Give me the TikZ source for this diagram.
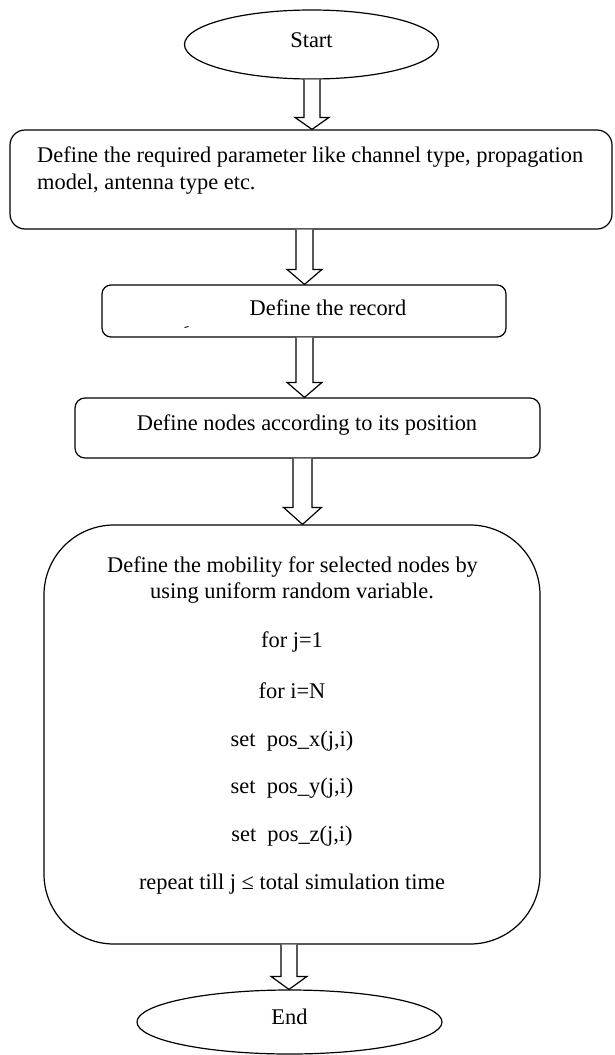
\documentclass[tikz,border=0pt]{standalone}
\usepackage{fontspec}
\setmainfont{Liberation Serif}
\usetikzlibrary{shapes.geometric,calc}
\newcommand\hollowarrow[6]{%
  \draw[arrowline] let \p1=(#2), \p2=(#3) in
    (#1-#4,\y1) -- (#1-#4,\y2+#6pt) -- (#1-#5,\y2+#6pt) -- (#1,\y2)
    -- (#1+#5,\y2+#6pt) -- (#1+#4,\y2+#6pt) -- (#1+#4,\y1);}
\begin{document}
\begin{tikzpicture}[x=1pt,y=1pt,
  every node/.style={font=\fontsize{22.4}{27}\selectfont},
  boxnode/.style={draw, line width=1.2pt, inner sep=0pt},
  ovalnode/.style={draw, ellipse, line width=1.2pt, inner sep=0pt},
  txt/.style={inner sep=0pt, anchor=base},
  txtl/.style={inner sep=0pt, anchor=base west},
  arrowline/.style={draw, line width=1.2pt, fill=white, line join=miter}]
\useasboundingbox (0,0) rectangle (614,-1055);

% shapes
\node[ovalnode, minimum width=254, minimum height=69] (start) at (311.5,-44.5) {};
\node[boxnode, rounded corners=15, minimum width=602, minimum height=99] (b1) at (311,-179.5) {};
\node[boxnode, rounded corners=9, minimum width=404, minimum height=52] (b2) at (304,-311) {};
\node[boxnode, rounded corners=10, minimum width=465, minimum height=60] (b3) at (307.5,-428) {};
\node[boxnode, rounded corners=70, minimum width=496, minimum height=419] (b4) at (292,-734.5) {};
\node[ovalnode, minimum width=305, minimum height=64] (end) at (289.5,-1022) {};

% texts
\node[txt] (tstart) at (311.5,-47) {Start};
\node[txtl] (t1a) at (37,-162) {Define the required parameter like channel type, propagation};
\node[txtl] (t1b) at (37,-189) {model, antenna type etc.};
\node[txt] (t2) at (328,-315) {Define the record};
\node[txt] (t3) at (307,-430) {Define nodes according to its position};
\node[txt] (m1) at (292.5,-572) {Define the mobility for selected nodes by};
\node[txt] (m2) at (292,-598) {using uniform random variable.};
\node[txt] (m3) at (292,-647) {for j=1};
\node[txt] (m4) at (292,-698) {for i=N};
\node[txt] (m5) at (292,-746) {set~~pos\_x(j,i)};
\node[txt] (m6) at (292,-793) {set~~pos\_y(j,i)};
\node[txt] (m7) at (292,-841) {set~~pos\_z(j,i)};
\node[txt] (m8) at (292,-889) {repeat till j ≤ total simulation time};
\node[txt] (tend) at (289.5,-1024) {End};

% stray mark
\draw[line width=0.9pt] (184.5,-327.5) -- (188.5,-326.5);

% block arrows
\hollowarrow{312}{start.south}{b1.north}{8}{17}{12}
\hollowarrow{304.5}{b1.south}{b2.north}{8.5}{17.5}{15}
\hollowarrow{304.5}{b2.south}{b3.north}{8.5}{17.5}{15}
\hollowarrow{302.5}{b3.south}{b4.north}{9.5}{19}{17}
\hollowarrow{289}{b4.south}{end.north}{8}{18}{13}
\end{tikzpicture}
\end{document}
